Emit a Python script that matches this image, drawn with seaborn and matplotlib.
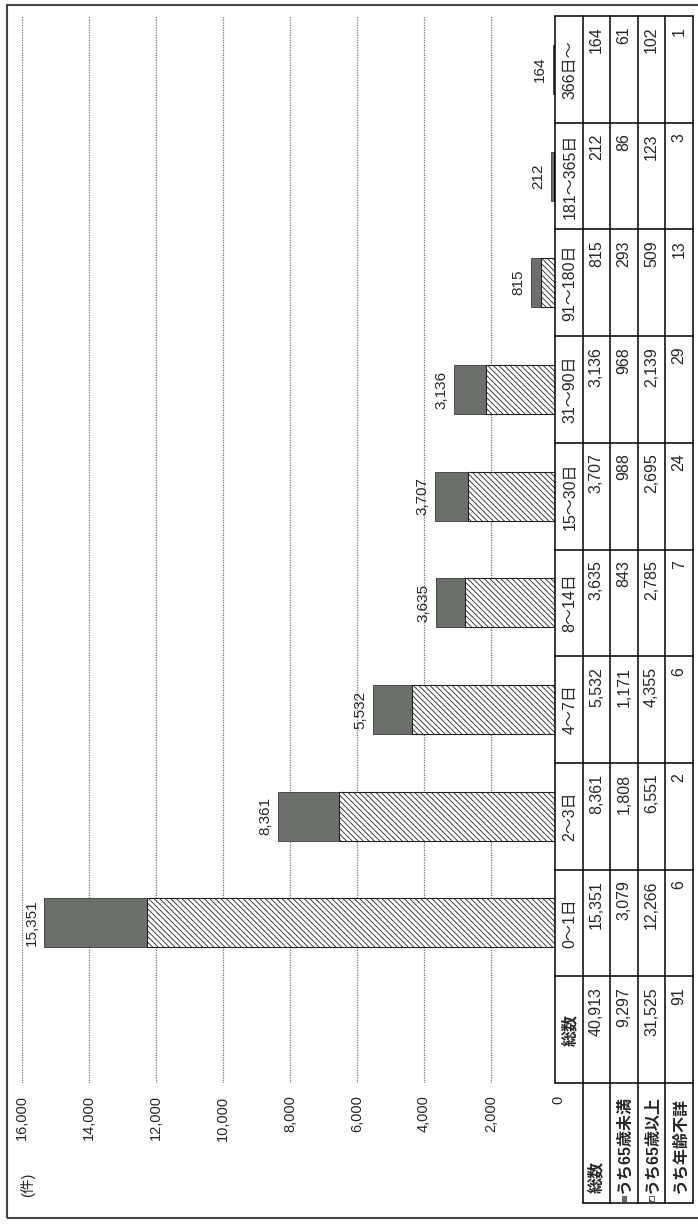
import matplotlib
matplotlib.use("Agg")
import matplotlib.pyplot as plt
from matplotlib.patches import Rectangle
import seaborn as sns
import pandas as pd

# data read from the (rotated) scanned chart
categories = ["0～1日", "2～3日", "4～7日", "8～14日", "15～30日",
              "31～90日", "91～180日", "181～365日", "366日～"]
total = [15351, 8361, 5532, 3635, 3707, 3136, 815, 212, 164]
under65 = [3079, 1808, 1171, 843, 988, 968, 293, 86, 61]
over65 = [12266, 6551, 4355, 2785, 2695, 2139, 509, 123, 102]
unknown = [6, 2, 6, 7, 24, 29, 13, 3, 1]
sum_label = "総数"
sum_values = [40913, 9297, 31525, 91]
row_labels = ["総数", "うち65歳未満", "うち65歳以上", "うち年齢不詳"]
value_ticks = [0, 2000, 4000, 6000, 8000, 10000, 12000, 14000, 16000]
unit_label = "(件)"

GRAY = "#6b706b"
HATCH = "\\" * 6

sns.set_theme(style="white")
plt.rcParams["font.family"] = ["Liberation Sans", "Noto Sans CJK JP"]
plt.rcParams["hatch.linewidth"] = 0.6

W, H = 698, 1224
fig = plt.figure(figsize=(W / 100, H / 100), dpi=100)


def px_box(x0, y0, x1, y1):
    return [x0 / W, 1 - y1 / H, (x1 - x0) / W, (y1 - y0) / H]


# main chart (drawn rotated: values run right-to-left, categories bottom-to-top)
ax = fig.add_axes(px_box(22, 16, 558, 1083))
df = pd.DataFrame({
    "category": categories,
    "stack": [a + b for a, b in zip(over65, under65)],
    "over65": over65,
})
sns.barplot(data=df, x="stack", y="category", orient="h", color=GRAY,
            saturation=1, width=0.46, edgecolor="#3a3a3a", linewidth=0.6,
            errorbar=None, ax=ax)
sns.barplot(data=df, x="over65", y="category", orient="h", color="white",
            saturation=1, width=0.46, edgecolor="#222222", linewidth=0.8,
            hatch=HATCH, errorbar=None, ax=ax)

ax.set_xlim(16000, 0)
ax.set_ylim(-1.5, 8.5)
ax.set_xticks(value_ticks)
ax.set_xticklabels([f"{v:,}" for v in value_ticks], rotation=90, fontsize=10.5)
ax.tick_params(axis="x", length=0, pad=9)
ax.set_yticks([])
ax.set_xlabel("")
ax.set_ylabel("")
for s in ax.spines.values():
    s.set_visible(False)
ax.grid(axis="x", color="#707070", linestyle=(0, (1, 1)), linewidth=0.9)
ax.set_axisbelow(True)
ax.bar_label(ax.containers[0], labels=[f"{v:,}" for v in total],
             rotation=90, padding=4, fontsize=11)

fig.text(28 / W, 1 - 1185 / H, unit_label, rotation=90, ha="center",
         va="center", fontsize=10.5)

# data table under the chart
tax = fig.add_axes(px_box(555, 16, 693, 1203))
tax.set_xlim(0, 5)
ylow = -1.5 - 120 / 106.7
tax.set_ylim(ylow, 8.5)
tax.axis("off")
# white cell background hides the bar feet under the header row
tax.add_patch(Rectangle((0, -1.5), 5, 10, facecolor="white",
                        edgecolor="none", zorder=0))

lkw = dict(color="black", linewidth=1.1, clip_on=False)
for xr in range(6):
    tax.plot([xr, xr], [-1.5 if xr == 0 else ylow, 8.5], **lkw)
for k in range(11):
    tax.plot([0, 5], [-1.5 + k, -1.5 + k], **lkw)
tax.plot([1, 5], [ylow, ylow], **lkw)

cols = [sum_label] + categories
for j, name in enumerate(cols):
    tax.text(0.55, j - 1, name, rotation=90, ha="center", va="center",
             fontsize=11.5, fontweight="bold" if j == 0 else "normal")

row_vals = [[sum_values[0]] + total, [sum_values[1]] + under65,
            [sum_values[2]] + over65, [sum_values[3]] + unknown]
for r, vals in enumerate(row_vals):
    for j, v in enumerate(vals):
        tax.text(r + 1.5, j - 1 + 0.5 - 0.1, f"{v:,}", rotation=90,
                 ha="center", va="top", fontsize=11.5)

for r, lab in enumerate(row_labels):
    tax.text(r + 1.5, ylow + 0.095, lab, rotation=90, ha="center",
             va="bottom", fontsize=11.5, fontweight="bold")
tax.add_patch(Rectangle((2.41, ylow + 0.02), 0.18, 0.05, facecolor=GRAY,
                        edgecolor="#333333", linewidth=0.5))
tax.add_patch(Rectangle((3.41, ylow + 0.02), 0.18, 0.05, facecolor="white",
                        edgecolor="#222222", linewidth=0.5, hatch="\\\\"))

# outer frame of the scanned figure
fig.add_artist(Rectangle((7 / W, 1 - 1218 / H), (720 - 7) / W, (1218 - 5) / H,
                         transform=fig.transFigure, fill=False,
                         edgecolor="#444444", linewidth=1.5))

fig.savefig("out.png", dpi=100)
